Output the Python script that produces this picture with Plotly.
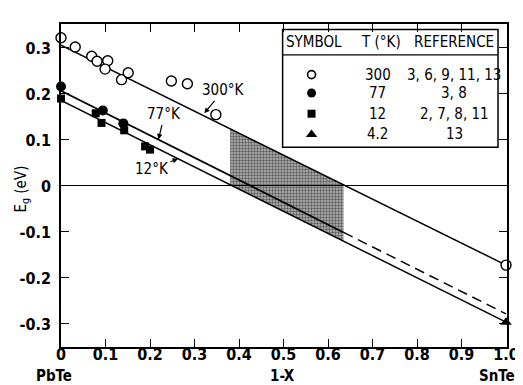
import plotly.graph_objects as go

# ---------------- data ----------------
# 300 K (open circles)
x_300 = [0.0, 0.032, 0.069, 0.081, 0.105, 0.099, 0.136, 0.151, 0.248, 0.284, 0.348, 1.0]
e_300 = [0.322, 0.302, 0.282, 0.271, 0.272, 0.254, 0.231, 0.246, 0.228, 0.222, 0.155, -0.172]
# 77 K (filled circles)
x_77 = [0.0, 0.094, 0.140]
e_77 = [0.216, 0.164, 0.136]
# 12 K (filled squares)
x_12 = [0.0, 0.078, 0.091, 0.142, 0.189, 0.200]
e_12 = [0.190, 0.158, 0.137, 0.121, 0.086, 0.079]
# 4.2 K (filled triangle)
x_4 = [1.0]
e_4 = [-0.296]

# fitted lines
line_x = [0.0, 1.0]
line_300 = [0.306, -0.172]
line_12 = [0.186, -0.296]
line77_solid_x = [0.0, 0.635]
line77_solid = [0.207, -0.101]
line77_dash_x = [0.635, 1.0]
line77_dash = [-0.101, -0.278]

# shaded region
shade_x = [0.38, 0.635, 0.635, 0.38, 0.38]
shade_e = [0.124, 0.002, -0.120, 0.003, 0.124]

# ticks
x_ticks = [0, 0.1, 0.2, 0.3, 0.4, 0.5, 0.6, 0.7, 0.8, 0.9, 1.0]
x_ticktext = ["0", "0.1", "0.2", "0.3", "0.4", "0.5", "0.6", "0.7", "0.8", "0.9", "1.0"]
y_ticks = [-0.3, -0.2, -0.1, 0, 0.1, 0.2, 0.3]
y_ticktext = ["-0.3", "-0.2", "-0.1", "0", "0.1", "0.2", "0.3"]

# legend table
leg_header = ["SYMBOL", "T (°K)", "REFERENCE"]
leg_T = ["300", "77", "12", "4.2"]
leg_ref = ["3, 6, 9, 11, 13", "3, 8", "2, 7, 8, 11", "13"]

FONT = "DejaVu Sans Condensed, Liberation Sans Narrow, Arial Narrow, sans-serif"
BLACK = "black"

fig = go.Figure()

# shading
fig.add_trace(go.Scatter(
    x=shade_x, y=shade_e, mode="lines", fill="toself",
    fillcolor="rgba(0,0,0,0.28)",
    fillpattern=dict(shape=".", size=3, solidity=0.5, fgcolor="#000000",
                     bgcolor="rgba(0,0,0,0.28)"),
    line=dict(width=0), hoverinfo="skip", showlegend=False))

# lines
fig.add_trace(go.Scatter(x=line_x, y=line_300, mode="lines",
                         line=dict(color=BLACK, width=1.5), showlegend=False))
fig.add_trace(go.Scatter(x=line_x, y=line_12, mode="lines",
                         line=dict(color=BLACK, width=1.5), showlegend=False))
fig.add_trace(go.Scatter(x=line77_solid_x, y=line77_solid, mode="lines",
                         line=dict(color=BLACK, width=1.8), showlegend=False))
fig.add_trace(go.Scatter(x=line77_dash_x, y=line77_dash, mode="lines",
                         line=dict(color=BLACK, width=1.5, dash="10px,6px"), showlegend=False))

# data markers
fig.add_trace(go.Scatter(x=x_300, y=e_300, mode="markers", cliponaxis=False,
                         marker=dict(symbol="circle", size=10, color="white",
                                     line=dict(color=BLACK, width=1.4)), showlegend=False))
fig.add_trace(go.Scatter(x=x_12, y=e_12, mode="markers", cliponaxis=False,
                         marker=dict(symbol="square", size=8, color=BLACK), showlegend=False))
fig.add_trace(go.Scatter(x=x_77, y=e_77, mode="markers", cliponaxis=False,
                         marker=dict(symbol="circle", size=10, color=BLACK), showlegend=False))
fig.add_trace(go.Scatter(x=x_4, y=e_4, mode="markers", cliponaxis=False,
                         marker=dict(symbol="triangle-up", size=10, color=BLACK), showlegend=False))

# legend box (drawn below traces)
box_x0, box_x1 = 0.498, 0.982
box_y0, box_y1 = 0.084, 0.340
sep_y = 0.285
fig.add_shape(type="rect", x0=box_x0, x1=box_x1, y0=box_y0, y1=box_y1, xref="x", yref="y",
              fillcolor="white", line=dict(color=BLACK, width=1.5), layer="below")
fig.add_shape(type="line", x0=box_x0, x1=box_x1, y0=sep_y, y1=sep_y, xref="x", yref="y",
              line=dict(color=BLACK, width=1.2), layer="below")

col_sym, col_T, col_ref = 0.563, 0.712, 0.884
row_y = [0.242, 0.202, 0.157, 0.112]
header_y = 0.3126

# legend symbols as markers
leg_symbols = [("circle-open", 8, 1.6), ("circle", 9, 0), ("square", 8, 0), ("triangle-up", 10, 0)]
for (sym, sz, lw), ry in zip(leg_symbols, row_y):
    fig.add_trace(go.Scatter(x=[col_sym], y=[ry], mode="markers", cliponaxis=False,
                             marker=dict(symbol=sym, size=sz, color=BLACK,
                                         line=dict(color=BLACK, width=lw)),
                             showlegend=False))

ann = []
for txt, cx in zip(leg_header, [0.569, 0.719, 0.884]):
    ann.append(dict(x=cx, y=header_y, text=txt, showarrow=False, xref="x", yref="y",
                    font=dict(family=FONT, size=15, color=BLACK)))
for t, r, ry in zip(leg_T, leg_ref, row_y):
    ann.append(dict(x=col_T, y=ry, text=t, showarrow=False, xref="x", yref="y",
                    font=dict(family=FONT, size=15, color=BLACK)))
    ann.append(dict(x=col_ref, y=ry, text=r, showarrow=False, xref="x", yref="y",
                    font=dict(family=FONT, size=15, color=BLACK)))

# curve labels with arrows
curve_labels = [("300°K", 0.322, 0.158, 19, -23),
                ("77°K", 0.219, 0.101, 6, -25),
                ("12°K", 0.263, 0.059, -26, 10)]
for txt, tx, ty, axp, ayp in curve_labels:
    ann.append(dict(x=tx, y=ty, text=txt, showarrow=True, ax=axp, ay=ayp,
                    arrowhead=2, arrowsize=0.9, arrowwidth=1.2, arrowcolor=BLACK,
                    xref="x", yref="y", font=dict(family=FONT, size=15, color=BLACK)))

# axis titles (paper coordinates)
ann.append(dict(x=-0.088, y=0.49, text="E<sub>g</sub> (eV)", textangle=-90, showarrow=False,
                xanchor="center", yanchor="middle",
                xref="paper", yref="paper", font=dict(family=FONT, size=15, color=BLACK)))
for txt, px in [("PbTe", -0.016), ("1-X", 0.497), ("SnTe", 0.978)]:
    ann.append(dict(x=px, y=-0.125, text="<b>" + txt + "</b>", showarrow=False,
                    xanchor="center", yanchor="bottom",
                    xref="paper", yref="paper", font=dict(family=FONT, size=15, color=BLACK)))

fig.update_layout(
    width=523, height=385,
    margin=dict(l=52, r=14, t=16, b=46),
    paper_bgcolor="white", plot_bgcolor="white",
    showlegend=False,
    annotations=ann,
    font=dict(family=FONT, color=BLACK),
    xaxis=dict(range=[0, 1.0022], tickvals=x_ticks, ticktext=x_ticktext,
               ticks="inside", ticklen=8, tickwidth=1.3, tickcolor=BLACK,
               showline=True, linecolor=BLACK, linewidth=1.6, mirror="ticks",
               showgrid=False, zeroline=False, ticklabelstandoff=-8,
               tickfont=dict(family=FONT, size=16, color=BLACK, weight="bold")),
    yaxis=dict(range=[-0.35, 0.352], tickvals=y_ticks, ticktext=y_ticktext,
               ticks="inside", ticklen=8, tickwidth=1.3, tickcolor=BLACK,
               showline=True, linecolor=BLACK, linewidth=1.6, mirror="ticks",
               showgrid=False, zeroline=True, zerolinecolor=BLACK, zerolinewidth=1.2,
               ticklabelstandoff=5,
               tickfont=dict(family=FONT, size=16, color=BLACK, weight="bold")),
)

fig.write_html("out.html")
